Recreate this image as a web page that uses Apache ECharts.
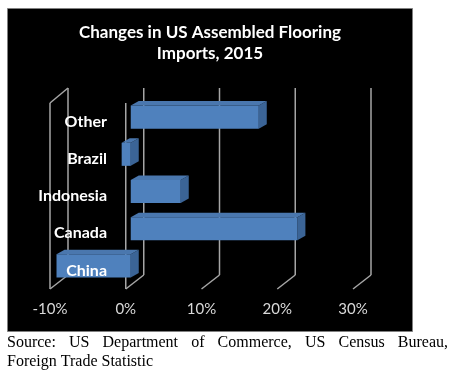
<!DOCTYPE html>
<html><head><meta charset="utf-8">
<script src="https://cdn.jsdelivr.net/npm/echarts@6/dist/echarts.min.js"></script>
<style>html,body{margin:0;padding:0;background:#fff}#c{width:458px;height:375px}</style>
</head><body><div id="c"></div>
<script>
// ---- data ----
const titleLines = ['Changes in US Assembled Flooring', 'Imports, 2015'];
const categories = ['Other', 'Brazil', 'Indonesia', 'Canada', 'China'];
const changes = [16.9, -1.2, 6.6, 22.0, -9.8];
const xTicks = [-10, 0, 10, 20, 30];
const sourceLines = ['Source: US Department of Commerce, US Census Bureau,', 'Foreign Trade Statistic'];

// ---- styling constants ----
const WALL_DX = 18, WALL_DY_TOP = -15, WALL_DY_BOT = -14;
const BAR_SHIFT_X = 5, BAR_SHIFT_Y = -4.5, BAR_DX = 8, BAR_DY = -4.5;
const GRID_COLOR = '#A6A6A6';

const chart = echarts.init(document.getElementById('c'), null, {renderer: 'canvas'});

// justified source text
const ctx = document.createElement('canvas').getContext('2d');
const srcFont = '16px "Liberation Serif"';
ctx.font = srcFont;
function textLine(line, x0, x1, y, justify) {
  const words = line.split(' ');
  const widths = words.map(w => ctx.measureText(w).width);
  const total = widths.reduce((a, b) => a + b, 0);
  const gap = justify ? (x1 - x0 - total) / (words.length - 1) : ctx.measureText(' ').width;
  let x = x0;
  return words.map((w, i) => {
    const el = {type: 'text', x: x, y: y, silent: true,
      style: {text: w, font: srcFont, fill: '#000', verticalAlign: 'middle', align: 'left'}};
    x += widths[i] + gap;
    return el;
  });
}

const graphics = [
  {type: 'rect', shape: {x: 7.5, y: 8.5, width: 405, height: 323}, z: -10, silent: true,
   style: {fill: '#000', stroke: '#808080', lineWidth: 1}},
  {type: 'text', x: 210, y: 33, silent: true,
   style: {text: titleLines[0], font: 'bold 17px Lato', fill: '#fff', align: 'center', verticalAlign: 'middle'}},
  {type: 'text', x: 210, y: 54, silent: true,
   style: {text: titleLines[1], font: 'bold 17px Lato', fill: '#fff', align: 'center', verticalAlign: 'middle'}},
  ...textLine(sourceLines[0], 7, 448, 343, true),
  ...textLine(sourceLines[1], 7, 448, 362, false)
];

const option = {
  backgroundColor: '#fff',
  animation: false,
  graphic: graphics,
  grid: {left: 50, top: 103, width: 303, height: 186, containLabel: false, outerBoundsMode: 'none'},
  xAxis: {
    type: 'value', min: -10, max: 30, interval: 10,
    axisLine: {show: false}, axisTick: {show: false}, splitLine: {show: false},
    axisLabel: {formatter: '{value}%', color: '#D9D9D9', fontFamily: 'Lato', fontSize: 15, margin: 13}
  },
  yAxis: {
    type: 'category', data: categories, inverse: true, z: 10, offset: -76,
    axisLine: {show: false, onZero: false}, axisTick: {show: false}, splitLine: {show: false},
    axisLabel: {color: '#fff', fontFamily: 'Lato', fontWeight: 'bold', fontSize: 16, margin: 19}
  },
  series: [
    {
      type: 'custom', z: 1, silent: true,
      data: xTicks.map(v => [v, 0]),
      encode: {x: 0, y: 1},
      renderItem: function (params, api) {
        const cs = params.coordSys;
        const v = api.value(0);
        const x = api.coord([v, 0])[0];
        const top = cs.y, bot = cs.y + cs.height;
        const ls = {stroke: GRID_COLOR, lineWidth: 1.5, fill: null};
        const children = [
          {type: 'line', shape: {x1: x + WALL_DX, y1: top + WALL_DY_TOP, x2: x + WALL_DX, y2: bot + WALL_DY_BOT}, style: ls},
          {type: 'line', shape: {x1: x + WALL_DX, y1: bot + WALL_DY_BOT, x2: x, y2: bot}, style: ls}
        ];
        if (v === xTicks[0]) {
          children.push({type: 'line', shape: {x1: x, y1: top, x2: x, y2: bot}, style: ls});
          children.push({type: 'line', shape: {x1: x, y1: top, x2: x + WALL_DX, y2: top + WALL_DY_TOP}, style: ls});
        }
        if (v === 0) {
          children.push({type: 'line', shape: {x1: x, y1: top, x2: x, y2: bot}, style: ls});
        }
        return {type: 'group', children: children};
      }
    },
    {
      type: 'custom', z: 2, silent: true,
      data: changes.map((v, i) => [v, i]),
      encode: {x: 0, y: 1},
      renderItem: function (params, api) {
        const v = api.value(0), i = api.value(1);
        const p0 = api.coord([0, i]), p1 = api.coord([v, i]);
        const band = api.size([0, 1])[1];
        const h = band * 0.62;
        const xl = Math.min(p0[0], p1[0]) + BAR_SHIFT_X;
        const xr = Math.max(p0[0], p1[0]) + BAR_SHIFT_X;
        const yc = p0[1] + BAR_SHIFT_Y;
        const yt = yc - h / 2, yb = yc + h / 2;
        return {type: 'group', children: [
          {type: 'polygon', shape: {points: [[xr, yt], [xr + BAR_DX, yt + BAR_DY], [xr + BAR_DX, yb + BAR_DY], [xr, yb]]},
           style: {fill: '#3B6496'}},
          {type: 'polygon', shape: {points: [[xl, yt], [xr, yt], [xr + BAR_DX, yt + BAR_DY], [xl + BAR_DX, yt + BAR_DY]]},
           style: {fill: '#4A77AE'}},
          {type: 'rect', shape: {x: xl, y: yt, width: xr - xl, height: h},
           style: {fill: '#4F81BD'}}
        ]};
      }
    }
  ]
};
chart.setOption(option);
</script>
</body></html>
